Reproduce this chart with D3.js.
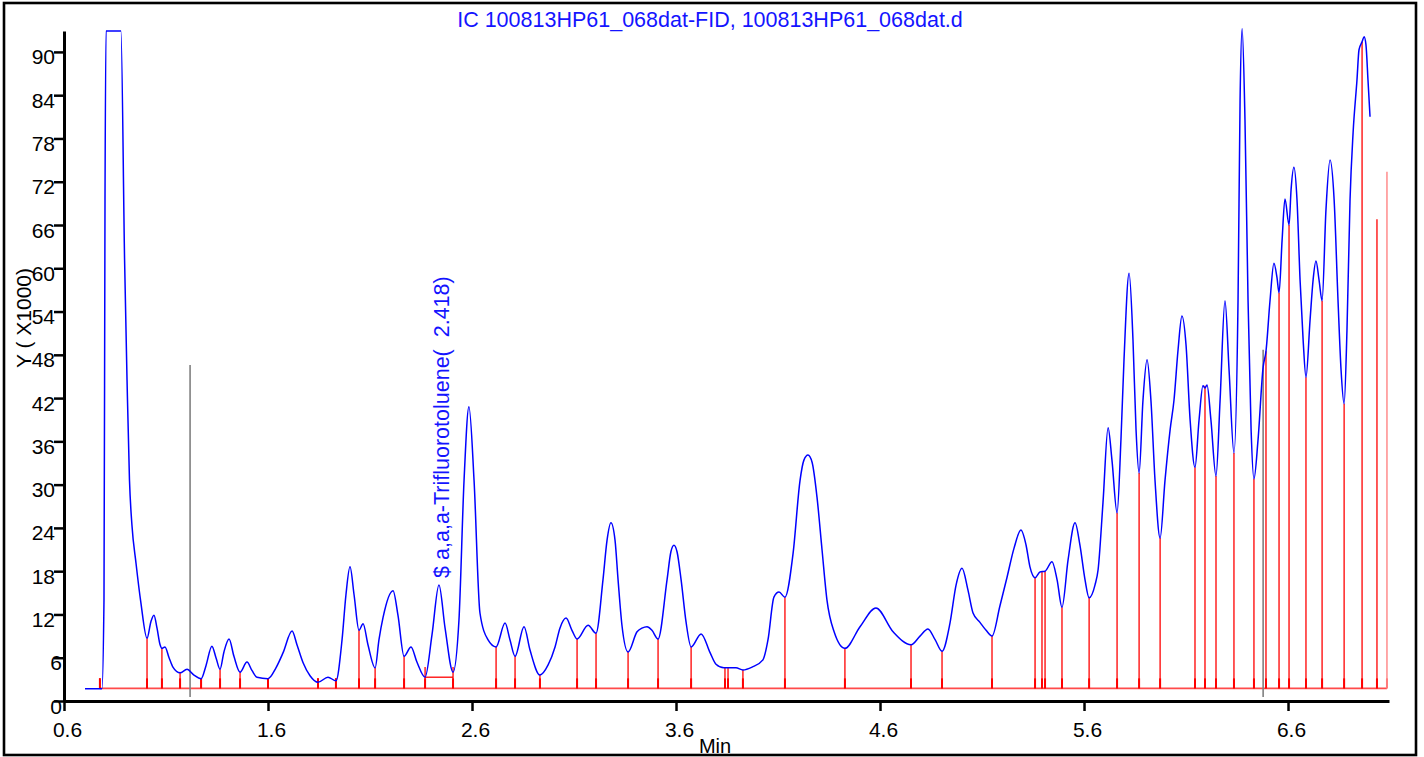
<!DOCTYPE html>
<html>
<head>
<meta charset="utf-8">
<script src="https://cdn.jsdelivr.net/npm/d3@7"></script>
<style>
  html, body { margin: 0; padding: 0; background: #fff; }
  svg { display: block; }
  text { font-family: "Liberation Sans", Arial, sans-serif; }
</style>
</head>
<body>
<script>
// FID chromatogram: signal (x1000) against retention time (min)
const titleText = "IC 100813HP61_068dat-FID, 100813HP61_068dat.d";
const xLabel = "Min";
const yLabel = "Y ( X1000)";

const xTicks = [0.6, 1.6, 2.6, 3.6, 4.6, 5.6, 6.6];
const yTicks = [0, 6, 12, 18, 24, 30, 36, 42, 48, 54, 60, 66, 72, 78, 84, 90];

// detector trace: retention time (min)
const traceTime = [
  0.703, 0.786, 0.796, 0.801, 0.806, 0.879, 0.897, 0.909, 0.921, 0.933, 0.953, 0.977,
  1.007, 1.026, 1.041, 1.056, 1.071, 1.080, 1.095, 1.115, 1.134, 1.169, 1.203, 1.237,
  1.272, 1.296, 1.325, 1.345, 1.365, 1.384, 1.409, 1.433, 1.463, 1.497, 1.522, 1.546,
  1.600, 1.639, 1.674, 1.718, 1.742, 1.772, 1.806, 1.845, 1.894, 1.933, 1.963, 1.982,
  2.002, 2.022, 2.046, 2.066, 2.090, 2.125, 2.144, 2.164, 2.213, 2.237, 2.267, 2.301,
  2.330, 2.370, 2.404, 2.438, 2.468, 2.507, 2.536, 2.561, 2.585, 2.610, 2.639, 2.678,
  2.718, 2.762, 2.786, 2.811, 2.855, 2.884, 2.933, 2.973, 3.007, 3.031, 3.061, 3.090,
  3.115, 3.169, 3.208, 3.242, 3.262, 3.281, 3.301, 3.316, 3.335, 3.365, 3.409, 3.433,
  3.458, 3.482, 3.512, 3.556, 3.575, 3.590, 3.605, 3.625, 3.649, 3.674, 3.723, 3.767,
  3.796, 3.835, 3.855, 3.894, 3.928, 3.973, 4.026, 4.051, 4.080, 4.105, 4.134, 4.174,
  4.208, 4.227, 4.247, 4.267, 4.291, 4.316, 4.340, 4.375, 4.428, 4.502, 4.580, 4.664,
  4.752, 4.796, 4.835, 4.870, 4.904, 4.943, 4.973, 5.002, 5.031, 5.056, 5.090, 5.120,
  5.149, 5.188, 5.223, 5.257, 5.291, 5.316, 5.335, 5.360, 5.384, 5.409, 5.443, 5.468,
  5.492, 5.522, 5.556, 5.580, 5.605, 5.625, 5.654, 5.669, 5.693, 5.718, 5.737, 5.762,
  5.781, 5.796, 5.821, 5.840, 5.855, 5.870, 5.889, 5.909, 5.928, 5.948, 5.973, 5.997,
  6.022, 6.041, 6.061, 6.080, 6.100, 6.120, 6.144, 6.164, 6.183, 6.193, 6.203, 6.222,
  6.247, 6.267, 6.291, 6.311, 6.335, 6.355, 6.365, 6.375, 6.389, 6.404, 6.419, 6.433,
  6.453, 6.478, 6.492, 6.512, 6.531, 6.546, 6.556, 6.571, 6.585, 6.605, 6.615, 6.629,
  6.644, 6.659, 6.674, 6.688, 6.708, 6.723, 6.737, 6.752, 6.767, 6.786, 6.806, 6.826,
  6.845, 6.860, 6.875, 6.889, 6.904, 6.919, 6.938, 6.948, 6.963, 6.973, 6.982, 6.992,
  7.002
];
// detector trace: response (x1000)
const traceValue = [
  1.7, 1.7, 14.0, 69.5, 92.9, 92.9, 61.1, 44.5, 30.6, 24.4, 19.1, 13.6,
  8.7, 11.0, 11.9, 10.1, 7.8, 7.3, 7.5, 6.0, 4.7, 3.9, 4.4, 3.6,
  3.1, 4.9, 7.6, 6.0, 4.4, 6.8, 8.6, 6.2, 4.0, 5.4, 4.2, 3.3,
  3.1, 4.6, 6.7, 9.7, 7.8, 5.3, 3.5, 2.6, 3.3, 2.8, 8.5, 14.7,
  18.6, 14.7, 9.8, 10.7, 7.8, 4.6, 8.5, 11.6, 15.3, 11.9, 6.2, 7.5,
  5.4, 3.3, 9.2, 16.1, 10.1, 4.0, 11.2, 30.6, 40.8, 30.6, 12.2, 8.5,
  7.5, 10.8, 8.5, 6.2, 10.3, 7.1, 3.6, 5.0, 7.5, 10.1, 11.5, 9.8,
  8.6, 10.5, 9.4, 16.8, 22.3, 24.7, 22.3, 16.8, 10.5, 6.8, 9.6, 10.1,
  10.3, 9.8, 8.6, 16.8, 20.7, 21.6, 20.7, 16.8, 11.0, 7.5, 9.3, 6.7,
  5.1, 4.6, 4.6, 4.6, 4.3, 4.7, 5.7, 8.5, 14.4, 15.1, 14.4, 20.5,
  30.6, 33.4, 34.1, 33.1, 28.3, 20.9, 14.0, 9.6, 7.3, 10.3, 12.9, 9.6,
  7.8, 9.0, 10.0, 8.5, 6.9, 10.8, 16.1, 18.4, 15.4, 12.2, 10.9, 9.8,
  9.0, 13.2, 17.2, 21.2, 23.7, 21.6, 18.6, 17.1, 17.9, 18.0, 19.3, 16.8,
  13.0, 19.6, 24.7, 21.6, 16.8, 14.3, 16.1, 18.2, 27.5, 37.9, 33.4, 26.1,
  36.2, 47.3, 59.3, 50.1, 37.6, 31.6, 41.7, 47.3, 41.7, 30.6, 22.6, 30.6,
  37.6, 41.7, 48.7, 53.4, 49.4, 39.0, 32.4, 39.0, 43.7, 43.4, 43.8, 39.0,
  31.2, 41.7, 55.5, 45.9, 34.4, 55.6, 83.3, 93.2, 80.6, 55.6, 37.6, 30.8,
  36.2, 46.3, 48.5, 55.6, 60.7, 58.7, 56.6, 63.9, 69.6, 66.0, 70.9, 74.0,
  69.5, 58.4, 50.1, 44.9, 52.8, 58.4, 61.0, 58.4, 55.5, 68.1, 75.0, 69.5,
  55.6, 45.9, 41.2, 51.4, 69.5, 78.8, 86.1, 90.3, 91.4, 92.1, 91.0, 86.1,
  81.0
];

// integration event markers: time (min) and top of the drop line (x1000)
const markerTime = [
  0.776, 1.007, 1.080, 1.169, 1.272, 1.365, 1.463, 1.600, 1.845, 1.933, 2.046, 2.125,
  2.267, 2.370, 2.507, 2.718, 2.811, 2.933, 3.115, 3.208, 3.365, 3.512, 3.674, 3.840,
  3.855, 3.928, 4.134, 4.428, 4.752, 4.904, 5.149, 5.360, 5.394, 5.409, 5.492, 5.625,
  5.762, 5.870, 5.973, 6.144, 6.193, 6.247, 6.335, 6.433, 6.492, 6.556, 6.605, 6.688,
  6.767, 6.875, 6.963, 7.036, 7.085
];
const markerTop = [
  3.2, 8.7, 7.3, 3.9, 3.1, 4.4, 4.0, 3.1, 3.2, 3.2, 9.8, 4.6,
  6.2, 4.7, 4.7, 7.5, 6.2, 3.6, 8.6, 9.4, 6.8, 8.6, 7.5, 4.6,
  4.6, 4.3, 14.4, 7.3, 7.8, 6.9, 9.0, 17.1, 17.9, 18.0, 13.0, 14.3,
  26.1, 31.6, 22.6, 32.4, 43.7, 31.2, 34.4, 30.8, 48.5, 56.6, 66.0, 44.9,
  55.5, 41.2, 91.4, 66.8, 73.4
];
const markerBaseline = 1.75;

// manual integration box of the surrogate peak
const boxStart = 2.370, boxEnd = 2.507, boxLevel = 3.3;

// event lines (grey)
const eventTime = [1.218, 6.478];
const eventTop = [46.6, 48.7];
const eventBottom = 0.55;

// compound annotation
const annotText = "$ a,a,a-Trifluorotoluene(  2.418)";
const annotTime = 2.418;
const annotValue = 16.1;

const W = 1424, H = 757;
const svg = d3.select("body").append("svg").attr("width", W).attr("height", H);

const x = d3.scaleLinear().domain([0.6, 7.095]).range([64, 1389]);
const y = d3.scaleLinear().domain([0, 92.9]).range([701, 31]);

// title
svg.append("text")
  .attr("x", 710).attr("y", 27)
  .attr("text-anchor", "middle")
  .attr("fill", "#1414ff")
  .style("font-size", "21.5px")
  .text(titleText);

// red marker baseline
svg.append("line")
  .attr("x1", x(markerTime[0])).attr("x2", x(markerTime[markerTime.length - 1]))
  .attr("y1", y(markerBaseline)).attr("y2", y(markerBaseline))
  .attr("stroke", "#ff2a2a").attr("stroke-opacity", 0.85).attr("stroke-width", 1.6);

// drop lines
const markers = markerTime.map((t, i) => ({ t, v: markerTop[i], last: i === markerTime.length - 1 }));
svg.append("g").selectAll("line.drop").data(markers).join("line")
  .attr("class", "drop")
  .attr("x1", d => x(d.t)).attr("x2", d => x(d.t))
  .attr("y1", y(markerBaseline)).attr("y2", d => y(d.v))
  .attr("stroke", d => d.last ? "#ff7a7a" : "#ff0000")
  .attr("stroke-width", 1.3);
// short heavier ticks at the foot of each drop line
svg.append("g").selectAll("line.foot").data(markers).join("line")
  .attr("class", "foot")
  .attr("x1", d => x(d.t)).attr("x2", d => x(d.t))
  .attr("y1", y(markerBaseline)).attr("y2", d => Math.max(y(d.v), y(markerBaseline) - 10))
  .attr("stroke", d => d.last ? "#ff7a7a" : "#ff0000")
  .attr("stroke-width", 2);

// integration box line
svg.append("line")
  .attr("x1", x(boxStart)).attr("x2", x(boxEnd))
  .attr("y1", y(boxLevel)).attr("y2", y(boxLevel))
  .attr("stroke", "#ff0000").attr("stroke-width", 1.3);

// grey event lines
svg.append("g").selectAll("line").data(eventTime).join("line")
  .attr("x1", d => x(d)).attr("x2", d => x(d))
  .attr("y1", y(eventBottom)).attr("y2", (d, i) => y(eventTop[i]))
  .attr("stroke", "#808080").attr("stroke-width", 1.6);

// trace
const trace = traceTime.map((t, i) => [t, traceValue[i]]);
svg.append("path")
  .datum(trace)
  .attr("fill", "none")
  .attr("stroke", "#0000ff")
  .attr("stroke-width", 1.5)
  .attr("stroke-linejoin", "round")
  .attr("d", d3.line().x(d => x(d[0])).y(d => y(d[1])).curve(d3.curveMonotoneX));

// annotation
svg.append("text")
  .attr("transform", `translate(${x(annotTime) + 14},${y(annotValue) - 7}) rotate(-90)`)
  .attr("text-anchor", "start")
  .attr("fill", "#1414ff")
  .style("font-size", "21.5px")
  .style("white-space", "pre")
  .text(annotText);

// axes
const yAxis = svg.append("g")
  .attr("transform", `translate(${x.range()[0]},0)`)
  .call(d3.axisLeft(y).tickValues(yTicks).tickSize(10).tickSizeOuter(0).tickFormat(d3.format("d")));
const xAxis = svg.append("g")
  .attr("transform", `translate(0,${y(0)})`)
  .call(d3.axisBottom(x).tickValues(xTicks).tickSize(10).tickSizeOuter(0).tickFormat(d3.format(".1f")));

[yAxis, xAxis].forEach(g => {
  g.select(".domain").attr("stroke", "#000").attr("stroke-width", 3);
  g.selectAll(".tick line").attr("stroke", "#000").attr("stroke-width", 2.5);
  g.selectAll(".tick text")
    .attr("fill", "#000")
    .style("font-size", "21px")
    .style("font-family", "'Liberation Sans', Arial, sans-serif");
});
yAxis.selectAll(".tick text")
  .attr("x", d => String(d).length === 1 ? -2 : -9)
  .attr("dy", null)
  .attr("y", 12);
xAxis.selectAll(".tick text")
  .attr("x", 3)
  .attr("dy", null)
  .attr("y", 36);

// axis titles
svg.append("text")
  .attr("transform", "translate(31,318) rotate(-90)")
  .attr("text-anchor", "middle")
  .attr("fill", "#000")
  .style("font-size", "21px")
  .text(yLabel);
svg.append("text")
  .attr("x", 715).attr("y", 753)
  .attr("text-anchor", "middle")
  .attr("fill", "#000")
  .style("font-size", "20px")
  .text(xLabel);

// outer frame
svg.append("rect")
  .attr("x", 4).attr("y", 3).attr("width", 1412).attr("height", 752)
  .attr("fill", "none").attr("stroke", "#000").attr("stroke-width", 2.6);
</script>
</body>
</html>
